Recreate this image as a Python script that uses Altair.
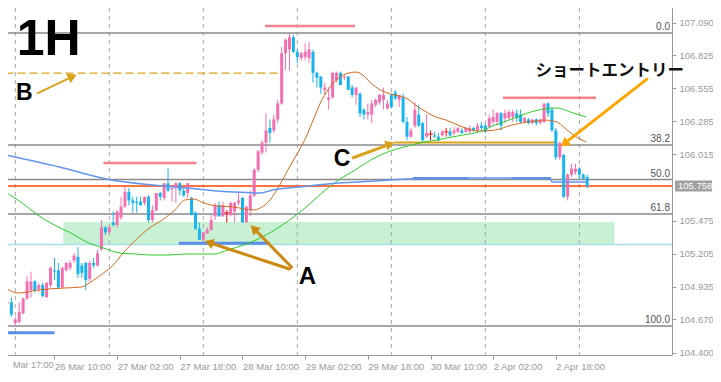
import altair as alt
import pandas as pd

# ---------------- candle data (hourly, USDJPY) ----------------
opens = [104.80, 104.81, 104.64, 104.65, 104.72, 104.84, 104.91, 104.98, 104.92, 104.95,
         104.85, 104.95, 105.07, 105.07, 104.93, 105.07, 105.09, 105.15, 105.18, 105.11,
         105.13, 105.00, 105.13, 105.11, 105.24, 105.42, 105.38, 105.46, 105.44, 105.50,
         105.59, 105.71, 105.64, 105.63, 105.63, 105.62, 105.67, 105.48, 105.56, 105.70,
         105.66, 105.78, 105.73, 105.74, 105.78, 105.72, 105.70, 105.66, 105.54, 105.41,
         105.32, 105.37, 105.40, 105.51, 105.60, 105.51, 105.54, 105.52, 105.55, 105.62,
         105.66, 105.46, 105.56, 105.68, 105.89, 106.03, 106.11, 106.23, 106.21, 106.30,
         106.43, 106.84, 106.87, 106.97, 106.85, 106.80, 106.81, 106.80, 106.85, 106.68,
         106.65, 106.54, 106.46, 106.48, 106.62, 106.68, 106.64, 106.65, 106.56, 106.50,
         106.51, 106.38, 106.34, 106.34, 106.42, 106.44, 106.46, 106.39, 106.50, 106.52,
         106.46, 106.48, 106.28, 106.16, 106.25, 106.34, 106.27, 106.16, 106.18, 106.17,
         106.16, 106.17, 106.20, 106.20, 106.19, 106.20, 106.21, 106.20, 106.20, 106.23,
         106.21, 106.25, 106.25, 106.24, 106.28, 106.28, 106.35, 106.31, 106.31, 106.32,
         106.35, 106.34, 106.28, 106.30, 106.27, 106.30, 106.27, 106.28, 106.43, 106.38,
         106.21, 105.99, 106.01, 105.67, 105.85, 105.87, 105.90, 105.85, 105.83]
highs = [104.86, 104.85, 104.69, 104.81, 104.85, 105.02, 105.06, 104.99, 104.97, 104.97,
         104.97, 105.10, 105.17, 105.13, 105.10, 105.14, 105.15, 105.21, 105.26, 105.13,
         105.14, 105.15, 105.17, 105.24, 105.48, 105.43, 105.43, 105.55, 105.56, 105.67,
         105.75, 105.74, 105.67, 105.67, 105.67, 105.67, 105.68, 105.60, 105.70, 105.71,
         105.78, 105.90, 105.74, 105.79, 105.79, 105.74, 105.78, 105.67, 105.55, 105.46,
         105.38, 105.42, 105.52, 105.62, 105.63, 105.63, 105.56, 105.63, 105.63, 105.70,
         105.67, 105.59, 105.72, 105.90, 106.05, 106.13, 106.35, 106.30, 106.34, 106.46,
         106.89, 106.96, 107.00, 106.99, 106.87, 106.85, 106.92, 106.93, 106.87, 106.69,
         106.65, 106.60, 106.56, 106.69, 106.69, 106.69, 106.66, 106.65, 106.58, 106.56,
         106.52, 106.39, 106.43, 106.46, 106.47, 106.51, 106.56, 106.46, 106.51, 106.54,
         106.50, 106.51, 106.32, 106.23, 106.44, 106.42, 106.28, 106.34, 106.21, 106.20,
         106.19, 106.21, 106.23, 106.23, 106.24, 106.24, 106.23, 106.24, 106.25, 106.24,
         106.27, 106.28, 106.27, 106.34, 106.38, 106.36, 106.36, 106.38, 106.38, 106.38,
         106.38, 106.38, 106.32, 106.31, 106.30, 106.31, 106.30, 106.43, 106.44, 106.40,
         106.23, 106.12, 106.02, 105.86, 105.94, 105.94, 105.91, 105.86, 105.85]
lows = [104.72, 104.69, 104.62, 104.64, 104.71, 104.83, 104.85, 104.89, 104.89, 104.85,
        104.85, 104.93, 104.99, 104.93, 104.93, 105.06, 105.07, 105.13, 105.01, 105.01,
        104.91, 104.98, 105.09, 105.10, 105.23, 105.36, 105.37, 105.43, 105.42, 105.48,
        105.58, 105.60, 105.54, 105.54, 105.60, 105.60, 105.46, 105.46, 105.55, 105.64,
        105.64, 105.71, 105.63, 105.62, 105.68, 105.67, 105.66, 105.52, 105.40, 105.32,
        105.31, 105.37, 105.39, 105.48, 105.51, 105.51, 105.46, 105.51, 105.46, 105.60,
        105.46, 105.46, 105.51, 105.67, 105.87, 106.01, 106.03, 106.11, 106.19, 106.27,
        106.42, 106.70, 106.70, 106.84, 106.76, 106.78, 106.78, 106.76, 106.60, 106.56,
        106.51, 106.50, 106.38, 106.47, 106.60, 106.58, 106.62, 106.54, 106.48, 106.42,
        106.32, 106.30, 106.30, 106.27, 106.40, 106.42, 106.38, 106.38, 106.39, 106.46,
        106.40, 106.27, 106.13, 106.15, 106.23, 106.24, 106.12, 106.15, 106.13, 106.15,
        106.12, 106.16, 106.16, 106.16, 106.17, 106.19, 106.18, 106.19, 106.19, 106.20,
        106.20, 106.21, 106.19, 106.23, 106.25, 106.25, 106.21, 106.27, 106.30, 106.28,
        106.28, 106.27, 106.27, 106.26, 106.26, 106.25, 106.26, 106.27, 106.32, 106.20,
        105.97, 105.97, 105.66, 105.64, 105.83, 105.85, 105.81, 105.81, 105.74]
closes = [104.81, 104.71, 104.67, 104.73, 104.84, 104.98, 104.98, 104.91, 104.95, 104.86,
          104.97, 105.09, 105.06, 104.93, 105.09, 105.13, 105.13, 105.19, 105.04, 105.05,
          104.99, 105.13, 105.11, 105.21, 105.42, 105.38, 105.42, 105.44, 105.55, 105.59,
          105.71, 105.64, 105.62, 105.62, 105.60, 105.67, 105.48, 105.56, 105.70, 105.67,
          105.78, 105.72, 105.74, 105.78, 105.72, 105.68, 105.78, 105.52, 105.41, 105.32,
          105.38, 105.40, 105.48, 105.60, 105.51, 105.60, 105.54, 105.62, 105.62, 105.64,
          105.46, 105.59, 105.68, 105.89, 106.04, 106.11, 106.21, 106.19, 106.30, 106.43,
          106.84, 106.95, 106.97, 106.85, 106.81, 106.84, 106.85, 106.87, 106.68, 106.64,
          106.56, 106.56, 106.48, 106.68, 106.68, 106.58, 106.65, 106.54, 106.50, 106.56,
          106.35, 106.34, 106.36, 106.43, 106.46, 106.50, 106.50, 106.43, 106.40, 106.47,
          106.50, 106.28, 106.16, 106.21, 106.38, 106.25, 106.13, 106.19, 106.18, 106.16,
          106.13, 106.20, 106.20, 106.17, 106.21, 106.23, 106.19, 106.23, 106.23, 106.21,
          106.25, 106.23, 106.20, 106.31, 106.32, 106.35, 106.25, 106.35, 106.36, 106.36,
          106.31, 106.28, 106.31, 106.27, 106.30, 106.27, 106.30, 106.43, 106.35, 106.21,
          105.99, 106.11, 105.67, 105.85, 105.90, 105.90, 105.85, 105.82, 105.758]

# ---------------- moving averages (bar index, price) ----------------
ma_fast_bar = [-0.5, 2.75, 7.75, 14.5, 18.75, 22, 24.5, 27, 29.5, 32.75, 36.25, 39.5, 42.75,
               45.25, 47.75, 49.5, 52, 57.75, 62.75, 64.5, 67, 69.5, 72, 74.5, 76.25, 78.25,
               80.25, 82.75, 84.5, 87, 88.75, 90.75, 92.75, 95.25, 98.75, 101.25, 105.25,
               109.5, 112, 116.25, 120.25, 124.5, 128.75, 132.75, 137, 140.25, 142, 144.5, 147.75]
ma_fast_price = [104.926, 104.885, 104.910, 104.926, 104.934, 104.991, 105.048, 105.113, 105.211,
                 105.317, 105.415, 105.480, 105.562, 105.643, 105.651, 105.627, 105.602, 105.586,
                 105.562, 105.578, 105.643, 105.765, 105.912, 106.051, 106.156, 106.311, 106.458,
                 106.580, 106.637, 106.678, 106.686, 106.662, 106.597, 106.540, 106.499, 106.482,
                 106.393, 106.319, 106.295, 106.238, 106.205, 106.214, 106.254, 106.279, 106.295,
                 106.279, 106.238, 106.173, 106.116]
ma_mid_bar = [-0.5, 3.75, 7.75, 12, 16.25, 20.25, 24.5, 28.75, 32.75, 37, 41.25, 45.25, 49.5,
              52.75, 56.25, 60.25, 64.5, 68.25, 72, 76.25, 80.25, 84.5, 88.75, 92.75, 97,
              101.25, 105.25, 109.5, 116.25, 120.25, 124.5, 128.75, 132.75, 137, 140.25,
              143.75, 147.75]
ma_mid_price = [105.708, 105.619, 105.521, 105.439, 105.374, 105.301, 105.252, 105.211, 105.203,
                105.195, 105.195, 105.203, 105.203, 105.203, 105.236, 105.276, 105.333, 105.399,
                105.480, 105.586, 105.700, 105.806, 105.888, 105.969, 106.034, 106.075, 106.108,
                106.132, 106.173, 106.197, 106.254, 106.303, 106.352, 106.385, 106.393, 106.360,
                106.319]
ma_slow_bar = [-0.5, 13.25, 26.5, 37.25, 45.75, 57.75, 64.5, 67.75, 74.5, 84.5, 93.75, 102,
               109.5, 138.5, 139, 147.75]
ma_slow_price = [106.010, 105.912, 105.806, 105.765, 105.741, 105.708, 105.700, 105.725, 105.749,
                 105.781, 105.798, 105.814, 105.822, 105.822, 105.790, 105.790]

# ---------------- levels ----------------
fib_levels = [107.004, 106.092, 105.810, 105.529, 104.617]
fib_labels = ["0.0", "38.2", "50.0", "61.8", "100.0"]
current_price = 105.758
aqua_level = 105.280
zone_from_bar, zone_to_bar = [14.25], [155.0]
zone_low, zone_high = [105.285], [105.464]

seg_from = [65.75, 24.5, 126.5, -0.5, 43.75, 103.5, 128.75, 98.75]
seg_to = [88.75, 48.25, 150.25, 12.0, 67.0, 117.75, 138.75, 140.25]
seg_price = [107.061, 105.945, 106.477, 104.562, 105.290, 105.820, 105.820, 106.112]
seg_color = ["#f2848f", "#f2848f", "#f2848f", "#5b8fe6", "#5b8fe6", "#5b8fe6", "#5b8fe6", "#d9a21b"]
seg_width = [2.5, 2.5, 2.5, 3, 3, 2.5, 2.5, 2]
b_line_from, b_line_to, b_line_price = [-0.5], [70.25], [106.678]

price_ticks = [107.090, 106.825, 106.555, 106.285, 106.015, 105.475, 105.205, 104.935, 104.670, 104.400]
time_tick_bars = [12, 28, 44, 60, 76, 92, 108, 124, 140]
time_tick_labels = ["26 Mar 10:00", "27 Mar 02:00", "27 Mar 18:00", "28 Mar 10:00", "29 Mar 02:00",
                    "29 Mar 18:00", "30 Mar 10:00", "2 Apr 02:00", "2 Apr 18:00"]
first_label_bar, first_label = [1.4], ["Mar 17:00"]
day_sep_bars = [2, 26, 50, 74, 98, 122, 146]

# annotations
txt = ["1H", "B", "C", "A"]
txt_bar = [10.5, 4.3, 85.4, 76.6]
txt_price = [106.825, 106.458, 105.920, 104.958]
txt_size = [50, 23, 23, 24]
jp_txt, jp_bar, jp_price = ["ショートエントリー"], [153.75], [106.697]

arr_tail_bar = [7.75, 88.25, 72.0, 72.5, 163.25]
arr_tail_price = [106.515, 105.988, 105.081, 105.097, 106.629]
arr_head_bar = [16.6, 97.7, 51.45, 62.9, 142.15]
arr_head_price = [106.649, 106.099, 105.297, 105.411, 106.103]
arr_angle = [65.2, 70.2, 287.8, 315.0, 232.3]
arr_color = ["#d9a21b", "#d9a21b", "#cc8a10", "#cc8a10", "#ffa500"]
arr_width = [2, 3, 3, 3, 3]

PINK, BLUE, RED = "#f46fb1", "#16b3ee", "#ff0000"
GRAY = "#9a9a9a"
PLOT_W, PLOT_H = 672, 355

# ---------------- tables ----------------
kinds = ["up" if c > o else ("down" if c < o else "doji") for o, c in zip(opens, closes)]
kind_col = {"up": PINK, "down": BLUE, "doji": RED}
candles = pd.DataFrame({"i": list(range(len(opens))), "o": opens, "h": highs, "l": lows,
                        "c": closes, "kind": kinds, "col": [kind_col[k] for k in kinds]})
ma = pd.concat([
    pd.DataFrame({"i": ma_fast_bar, "p": ma_fast_price, "s": "fast", "col": "#d2691e", "w": 1.0}),
    pd.DataFrame({"i": ma_mid_bar, "p": ma_mid_price, "s": "mid", "col": "#2ecc2e", "w": 1.0}),
    pd.DataFrame({"i": ma_slow_bar, "p": ma_slow_price, "s": "slow", "col": "#6495ed", "w": 1.5}),
])
segs = pd.DataFrame({"a": seg_from, "b": seg_to, "p": seg_price, "col": seg_color, "w": seg_width})
fibs = pd.DataFrame({"p": fib_levels, "t": fib_labels})
arrows = pd.DataFrame({"tb": arr_tail_bar, "tp": arr_tail_price, "hb": arr_head_bar,
                       "hp": arr_head_price, "ang": arr_angle, "col": arr_color, "w": arr_width})

XS = alt.Scale(domain=[-0.625, 168.375], nice=False, zero=False)
YS = alt.Scale(domain=[104.3802, 107.2734], nice=False, zero=False)
label_map = "{" + ",".join(f"'{b}':'{t}'" for b, t in zip(time_tick_bars, time_tick_labels)) + "}[datum.value]"

x_axis = alt.Axis(values=time_tick_bars, labelExpr=label_map, labelAlign="left", labelBaseline="top",
                  labelColor=GRAY, labelFont="Liberation Sans", labelFontSize=9.5, tickColor=GRAY,
                  tickSize=4, domainColor=GRAY, labelPadding=2, grid=False, title=None,
                  labelFlush=False, labelOverlap=False)
y_axis = alt.Axis(orient="right", values=price_ticks, format=".3f", labelColor=GRAY,
                  labelFont="Liberation Sans", labelFontSize=9.5, tickColor=GRAY, tickSize=4,
                  domainColor=GRAY, labelPadding=3, grid=False, title=None, labelFlush=False,
                  labelOverlap=False)


def X(f):
    return alt.X(f, scale=XS, axis=x_axis)


def Y(f):
    return alt.Y(f, scale=YS, axis=y_axis)


COL = alt.Color("col:N", scale=None)
SW = alt.StrokeWidth("w:Q", scale=None)

zone = alt.Chart(pd.DataFrame({"a": zone_from_bar, "b": zone_to_bar, "lo": zone_low, "hi": zone_high})
                 ).mark_rect(color="#c8f0d2").encode(x=X("a:Q"), x2="b:Q", y=Y("lo:Q"), y2="hi:Q")
seps = alt.Chart(pd.DataFrame({"i": day_sep_bars})).mark_rule(
    color="#a8a8a8", strokeDash=[4, 4], strokeWidth=1).encode(x=X("i:Q"))
fib_lines = alt.Chart(fibs).mark_rule(color="#8a8a8a", strokeWidth=1.5).encode(y=Y("p:Q"))
aqua = alt.Chart(pd.DataFrame({"p": [aqua_level]})).mark_rule(color="#a6dde6", strokeWidth=1.5).encode(y=Y("p:Q"))
price_line = alt.Chart(pd.DataFrame({"p": [current_price]})).mark_rule(color="#ff4500", strokeWidth=1.5).encode(y=Y("p:Q"))
seg_layer = alt.Chart(segs).mark_rule(strokeCap="butt").encode(
    x=X("a:Q"), x2="b:Q", y=Y("p:Q"), color=COL, strokeWidth=SW)
b_line = alt.Chart(pd.DataFrame({"a": b_line_from, "b": b_line_to, "p": b_line_price})).mark_rule(
    color="#d9a21b", strokeDash=[8, 4], strokeWidth=1.2).encode(x=X("a:Q"), x2="b:Q", y=Y("p:Q"))

wicks = alt.Chart(candles).mark_rule(strokeWidth=1).encode(
    x=X("i:Q"), y=Y("l:Q"), y2="h:Q", color=COL)
bodies = alt.Chart(candles).transform_filter("datum.kind != 'doji'").mark_bar(size=3).encode(
    x=X("i:Q"), y=Y("o:Q"), y2="c:Q", color=COL)
dojis = alt.Chart(candles).transform_filter("datum.kind == 'doji'").mark_tick(
    orient="horizontal", size=5, thickness=1.2, color=RED).encode(x=X("i:Q"), y=Y("o:Q"))

ma_lines = alt.Chart(ma).mark_line(interpolate="monotone").encode(
    x=X("i:Q"), y=Y("p:Q"), detail="s:N", color=COL, strokeWidth=SW)

fib_text = alt.Chart(fibs).mark_text(align="right", baseline="bottom", dy=-1, fontSize=10,
                                     font="Liberation Sans", color="#555555").encode(
    x=alt.value(PLOT_W - 2), y=Y("p:Q"), text="t:N")

ann = alt.Chart(pd.DataFrame({"t": txt, "i": txt_bar, "p": txt_price, "s": txt_size})).mark_text(
    align="center", baseline="alphabetic", font="Liberation Sans", fontWeight="bold", color="#000000").encode(
    x=X("i:Q"), y=Y("p:Q"), text="t:N", size=alt.Size("s:Q", scale=None))
jp = alt.Chart(pd.DataFrame({"t": jp_txt, "i": jp_bar, "p": jp_price})).mark_text(
    align="center", baseline="middle", font="Noto Sans CJK JP", fontWeight="bold", fontSize=16.5,
    color="#111111").encode(x=X("i:Q"), y=Y("p:Q"), text="t:N")

arrow_lines = alt.Chart(arrows).mark_rule(strokeCap="round").encode(
    x=X("tb:Q"), x2="hb:Q", y=Y("tp:Q"), y2="hp:Q", color=COL, strokeWidth=SW)
arrow_heads = alt.Chart(arrows).mark_point(shape="triangle-up", filled=True, size=110, opacity=1).encode(
    x=X("hb:Q"), y=Y("hp:Q"), angle=alt.Angle("ang:Q", scale=None), color=COL)

price_box = alt.Chart(pd.DataFrame({"p": [current_price]})).mark_rule(
    color="#a0a0a0", strokeWidth=11, strokeCap="butt").encode(
    x=alt.value(PLOT_W + 3), x2=alt.value(PLOT_W + 40), y=Y("p:Q"))
price_txt = alt.Chart(pd.DataFrame({"p": [current_price], "t": [f"{current_price:.3f}"]})).mark_text(
    align="left", baseline="middle", fontSize=9.5, font="Liberation Sans", color="white").encode(
    x=alt.value(PLOT_W + 6), y=Y("p:Q"), text="t:N")

first_lbl = alt.Chart(pd.DataFrame({"i": first_label_bar, "t": first_label})).mark_text(
    align="left", baseline="top", fontSize=9, font="Liberation Sans", color=GRAY).encode(
    x=X("i:Q"), y=alt.value(361), text="t:N")

chart = alt.layer(
    zone, seps, fib_lines, aqua, price_line, seg_layer, b_line,
    wicks, bodies, dojis, ma_lines,
    fib_text, ann, jp, arrow_lines, arrow_heads, price_box, price_txt, first_lbl,
).properties(
    width=PLOT_W, height=PLOT_H,
    padding={"left": -8, "top": -8, "right": 41, "bottom": 18},
    autosize=alt.AutoSizeParams(type="none"),
).configure_view(strokeWidth=0).configure(background="white")

chart.save("out.html", embed_options={"renderer": "svg", "actions": False})
